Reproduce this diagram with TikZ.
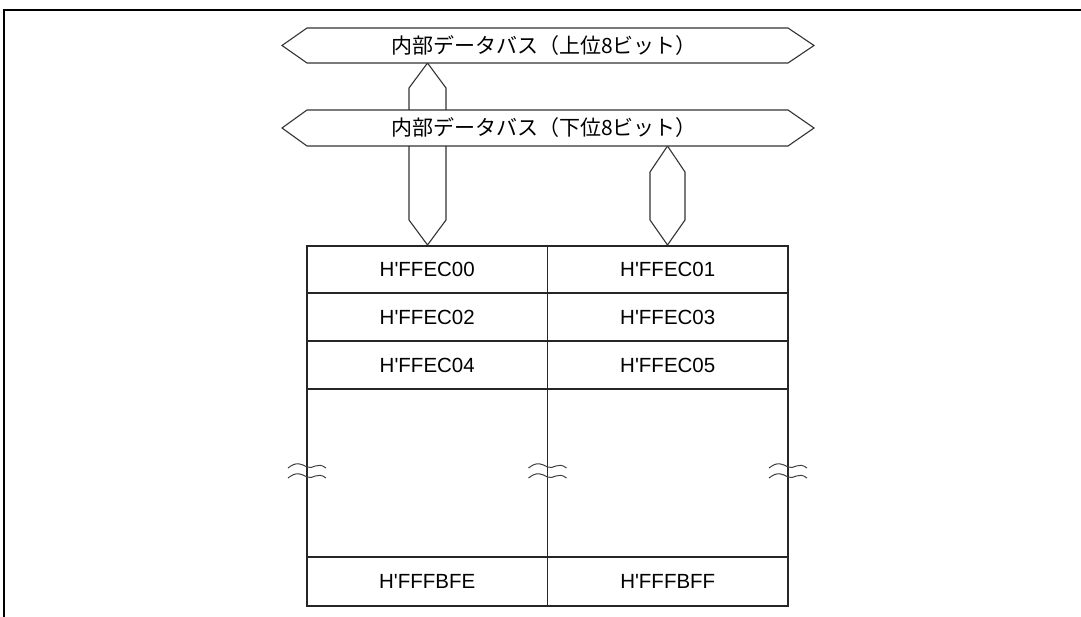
\documentclass[tikz,border=0pt]{standalone}
\usepackage{fontspec}
\setmainfont{Liberation Sans}[Ligatures=TeXOff]
\newfontfamily\jp{Noto Sans CJK JP}
\begin{document}
\begin{tikzpicture}[x=1pt,y=-1pt,
  busline/.style={draw=black!80,line width=1.1pt,line join=miter},
  cell/.style={draw=black!85,line width=1.3pt,minimum width=240.5pt,inner sep=0pt,font=\fontsize{20.5}{20.5}\selectfont},
  bustext/.style={font=\jp\fontsize{21}{21}\selectfont,inner sep=0pt},
  brk/.style={draw=black!75,line width=1pt}]
\useasboundingbox (0,0) rectangle (1081,617);
% frame
\draw[line width=1.8pt] (4,617) -- (4,10) -- (1081,10);
% vertical buses (behind)
\draw[busline,fill=white] (427.5,63) -- (446,88) -- (446,220) -- (427.5,245) -- (409,220) -- (409,88) -- cycle;
\draw[busline,fill=white] (667.5,146) -- (685,172) -- (685,220) -- (667.5,245) -- (650,220) -- (650,172) -- cycle;
% horizontal buses
\draw[busline,fill=white] (282,45.5) -- (307,28) -- (788,28) -- (814,45.5) -- (788,63) -- (307,63) -- cycle;
\node[bustext] (bushi) at (544,46) {内部データバス（上位8ビット）};
\draw[busline,fill=white] (282,128) -- (307,110) -- (788,110) -- (814,128) -- (788,146) -- (307,146) -- cycle;
\node[bustext] (buslo) at (544,128) {内部データバス（下位8ビット）};
% table cells
\node[cell,minimum height=47pt] (c00) at (427.25,269.5) {H'FFEC00};
\node[cell,minimum height=47pt] (c01) at (667.75,269.5) {H'FFEC01};
\node[cell,minimum height=48pt] (c02) at (427.25,317) {H'FFEC02};
\node[cell,minimum height=48pt] (c03) at (667.75,317) {H'FFEC03};
\node[cell,minimum height=48pt] (c04) at (427.25,365) {H'FFEC04};
\node[cell,minimum height=48pt] (c05) at (667.75,365) {H'FFEC05};
\node[cell,minimum height=168pt] (gapl) at (427.25,473) {};
\node[cell,minimum height=168pt] (gapr) at (667.75,473) {};
\node[cell,minimum height=49pt] (cfe) at (427.25,581.5) {H'FFFBFE};
\node[cell,minimum height=49pt] (cff) at (667.75,581.5) {H'FFFBFF};
% break marks
\foreach \bx in {307,547.5,788}{
  \foreach \by in {467,477}{
    \draw[brk] (\bx-19,\by+1) .. controls (\bx-10,\by-6) and (\bx-6,\by-3) .. (\bx,\by)
       .. controls (\bx+6,\by+3) and (\bx+10,\by-6) .. (\bx+19,\by+1);
  }
}
\end{tikzpicture}
\end{document}
